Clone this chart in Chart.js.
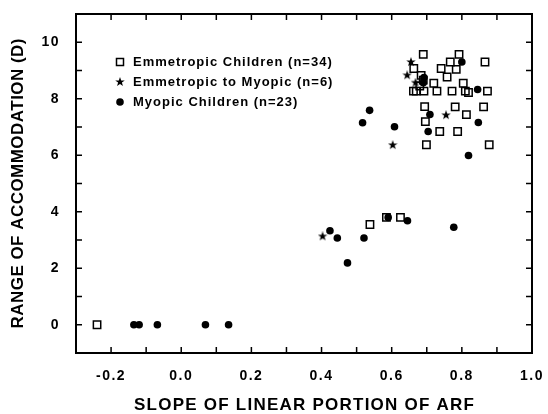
<!DOCTYPE html>
<html><head><meta charset="utf-8">
<script src="https://cdn.jsdelivr.net/npm/chart.js@4.4.0/dist/chart.umd.min.js"></script>
<style>html,body{margin:0;padding:0;background:#fff;}canvas{display:block;}</style>
</head><body>
<canvas id="c" width="548" height="414"></canvas>
<script>
const seriesNames = ['Emmetropic Children (n=34)', 'Emmetropic to Myopic (n=6)', 'Myopic Children (n=23)'];
const xTitle = 'SLOPE OF LINEAR PORTION OF ARF';
const yTitle = 'RANGE OF ACCOMMODATION (D)';
const xTickLabels = ['-0.2', '0.0', '0.2', '0.4', '0.6', '0.8', '1.0'];
const yTickLabels = ['0', '2', '4', '6', '8', '10'];

const emmX = [-0.24, 0.538, 0.585, 0.625, 0.690, 0.792, 0.767, 0.784, 0.866, 0.663, 0.741, 0.758, 0.684, 0.690, 0.720, 0.804, 0.662, 0.670, 0.729, 0.772, 0.810, 0.819, 0.873, 0.694, 0.781, 0.862, 0.813, 0.696, 0.737, 0.788, 0.699, 0.878, 0.692, 0.680];
const emmY = [0, 3.55, 3.80, 3.80, 9.57, 9.57, 9.30, 9.04, 9.30, 9.07, 9.07, 8.77, 8.83, 8.66, 8.55, 8.55, 8.27, 8.27, 8.27, 8.27, 8.27, 8.22, 8.27, 7.72, 7.71, 7.71, 7.44, 7.19, 6.84, 6.84, 6.37, 6.37, 8.27, 8.45];
const e2mX = [0.655, 0.644, 0.668, 0.755, 0.603, 0.403];
const e2mY = [9.30, 8.83, 8.57, 7.42, 6.36, 3.13];
const myoX = [-0.135, -0.12, -0.068, 0.069, 0.135, 0.424, 0.445, 0.521, 0.474, 0.59, 0.645, 0.777, 0.537, 0.517, 0.608, 0.709, 0.847, 0.704, 0.819, 0.800, 0.690, 0.845, 0.692];
const myoY = [0, 0, 0, 0, 0, 3.33, 3.07, 3.07, 2.19, 3.80, 3.68, 3.45, 7.59, 7.15, 7.01, 7.44, 7.16, 6.84, 5.99, 9.30, 8.57, 8.33, 8.75];

const FONT = '"Liberation Sans", Arial, sans-serif';
const pts = (xs, ys) => xs.map((x, i) => ({x, y: ys[i]}));

function makeStar(size) {
  const c = document.createElement('canvas');
  c.width = c.height = size;
  const g = c.getContext('2d');
  g.fillStyle = '#000';
  g.beginPath();
  for (let i = 0; i < 10; i++) {
    const r = i % 2 ? size * 0.2 : size * 0.5;
    const a = -Math.PI / 2 + i * Math.PI / 5;
    g.lineTo(size / 2 + r * Math.cos(a), size / 2 + r * Math.sin(a));
  }
  g.closePath();
  g.fill();
  return c;
}
const starImg = makeStar(10);

function spacedText(ctx, text, x, y, font, targetW) {
  ctx.font = font;
  ctx.letterSpacing = '0px';
  const w = ctx.measureText(text).width;
  const sp = (targetW - w) / (text.length - 1);
  ctx.letterSpacing = sp + 'px';
  ctx.textAlign = 'left';
  ctx.textBaseline = 'middle';
  ctx.fillText(text, x - targetW / 2, y);
  ctx.letterSpacing = '0px';
}

const framePlugin = {
  id: 'frame',
  beforeDraw(chart) { chart.ctx.letterSpacing = '1.5px'; },
  afterDraw(chart) {
    const {ctx, chartArea: a, scales: {x, y}} = chart;
    ctx.save();
    ctx.letterSpacing = '0px';
    ctx.strokeStyle = '#000';
    ctx.lineWidth = 1.5;
    ctx.beginPath();
    x.ticks.forEach(t => {
      const px = x.getPixelForValue(t.value);
      ctx.moveTo(px, a.bottom); ctx.lineTo(px, a.bottom - 6);
      ctx.moveTo(px, a.top); ctx.lineTo(px, a.top + 6);
    });
    y.ticks.forEach(t => {
      const py = y.getPixelForValue(t.value);
      ctx.moveTo(a.left, py); ctx.lineTo(a.left + 6, py);
      ctx.moveTo(a.right, py); ctx.lineTo(a.right - 6, py);
    });
    ctx.stroke();
    ctx.lineWidth = 2;
    ctx.strokeRect(a.left, a.top, a.right - a.left, a.bottom - a.top);

    // axis titles
    ctx.fillStyle = '#000';
    spacedText(ctx, xTitle, (a.left + a.right) / 2, 405, 'bold 17px ' + FONT, 340);
    ctx.save();
    ctx.translate(18, (a.top + a.bottom) / 2);
    ctx.rotate(-Math.PI / 2);
    spacedText(ctx, yTitle, 0, 0, 'bold 17px ' + FONT, 290);
    ctx.restore();

    // legend
    const lx = a.left + 44, ly0 = a.top + 48, dy = 20;
    ctx.lineWidth = 1.5;
    ctx.strokeRect(lx - 3.5, ly0 - 3.5, 7, 7);
    ctx.drawImage(starImg, lx - 5, ly0 + dy - 5);
    ctx.beginPath(); ctx.arc(lx, ly0 + 2 * dy, 3.8, 0, Math.PI * 2); ctx.fill();
    ctx.font = 'bold 13px ' + FONT;
    ctx.letterSpacing = '1px';
    ctx.textAlign = 'left';
    ctx.textBaseline = 'middle';
    seriesNames.forEach((n, i) => ctx.fillText(n, lx + 13, ly0 + i * dy));
    ctx.restore();
  }
};

new Chart(document.getElementById('c'), {
  type: 'scatter',
  data: {
    datasets: [
      {label: seriesNames[0], data: pts(emmX, emmY), pointStyle: 'rect', radius: 5.2, borderColor: '#000', borderWidth: 1.5, backgroundColor: 'rgba(0,0,0,0)'},
      {label: seriesNames[1], data: pts(e2mX, e2mY), pointStyle: starImg, radius: 5, borderColor: '#000', backgroundColor: '#000'},
      {label: seriesNames[2], data: pts(myoX, myoY), pointStyle: 'circle', radius: 3.8, borderWidth: 0, borderColor: '#000', backgroundColor: '#000'}
    ]
  },
  options: {
    responsive: false,
    animation: false,
    devicePixelRatio: 1,
    layout: {padding: {top: 14, right: 16, left: 0, bottom: 0}},
    plugins: {legend: {display: false}, tooltip: {enabled: false}},
    scales: {
      x: {
        type: 'linear', min: -0.3, max: 1.0,
        grid: {display: false, drawTicks: false},
        border: {display: false},
        afterFit(s) { s.height = 61; s.paddingLeft = 0; s.paddingRight = 0; },
        ticks: {
          stepSize: 0.1, autoSkip: false, maxRotation: 0, padding: 15, color: '#000',
          font: {family: FONT, size: 14, weight: 'bold'},
          callback(v) {
            const s = (Math.round(v * 10) / 10).toFixed(1);
            return xTickLabels.includes(s) ? s : '';
          }
        }
      },
      y: {
        type: 'linear', min: -1, max: 11,
        grid: {display: false, drawTicks: false},
        border: {display: false},
        afterFit(s) { s.width = 76; s.paddingTop = 0; s.paddingBottom = 0; },
        ticks: {
          stepSize: 1, autoSkip: false, padding: 16, color: '#000',
          font: {family: FONT, size: 14, weight: 'bold'},
          callback(v) {
            const s = String(Math.round(v));
            return yTickLabels.includes(s) ? s : '';
          }
        }
      }
    }
  },
  plugins: [framePlugin]
});
</script>
</body></html>
